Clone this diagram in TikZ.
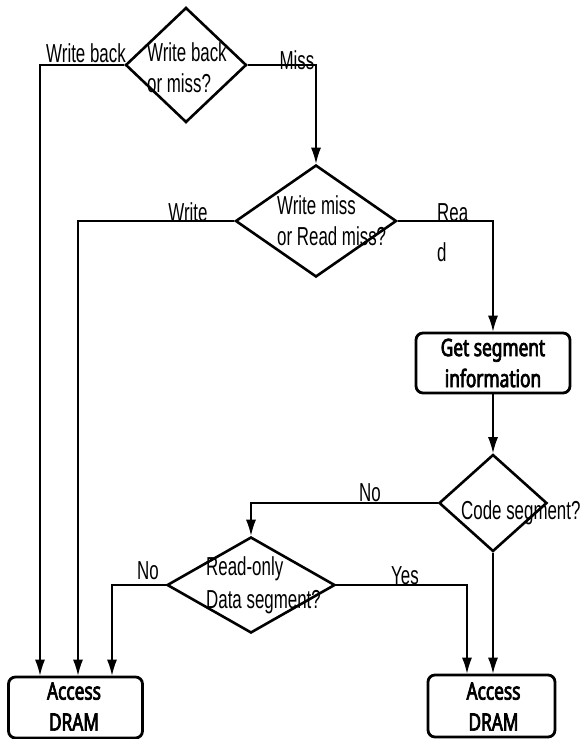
\documentclass[tikz,border=0pt]{standalone}
\usepackage{fontspec}
\usetikzlibrary{shapes.geometric,arrows.meta}
\newfontfamily\labfont{Liberation Sans}[FakeStretch=0.65]
\newfontfamily\boldfont{Noto Sans}[FakeStretch=0.72, FakeBold=3]
\tikzset{
  dec/.style={diamond, draw, line width=2.6pt, inner sep=0pt, text width=0pt},
  boxn/.style={draw, rounded corners=7pt, line width=2.8pt, inner sep=0pt},
  conn/.style={line width=1.3pt},
  arr/.style={conn, -{Latex[length=16pt,width=10pt]}},
  lab/.style={inner sep=0pt, font=\labfont\fontsize{26}{31}\selectfont},
  btxt/.style={inner sep=0pt, align=center, font=\boldfont\fontsize{24}{31}\selectfont},
}
\begin{document}
\begin{tikzpicture}[x=1pt,y=-1pt]
\useasboundingbox (0,0) rectangle (588,739);
% decisions
\node[dec, minimum width=121pt, minimum height=115pt] (d1) at (186,65) {};
\node[dec, minimum width=161pt, minimum height=112pt] (d2) at (316,221) {};
\node[dec, minimum width=108pt, minimum height=97pt] (d3) at (493,503) {};
\node[dec, minimum width=168pt, minimum height=96pt] (d4) at (251,585) {};
% boxes
\node[boxn, minimum width=154pt, minimum height=60pt] (gs) at (493,363) {};
\node[boxn, minimum width=134pt, minimum height=61pt] (accL) at (75.5,707.5) {};
\node[boxn, minimum width=127pt, minimum height=62pt] (accR) at (491.5,706) {};
% texts in shapes
\node[lab, align=left, anchor=west] (t1) at (147,68) {Write back\\or miss?};
\node[lab, align=left, anchor=west] (t2) at (277,220.5) {Write miss\\or Read miss?};
\node[lab, anchor=west] (t3) at (461,513) {Code segment?};
\node[lab, align=left, anchor=west, font=\labfont\fontsize{26}{33}\selectfont] (t4) at (206,585) {Read-only\\Data segment?};
\node[btxt] (tg) at (493,363) {Get segment\\information};
\node[btxt] (taL) at (74,706.5) {Access\\DRAM};
\node[btxt] (taR) at (493.5,706.5) {Access\\DRAM};
% x positions of entries
\coordinate (xa) at (40,0);
\coordinate (xb) at (78,0);
\coordinate (xc) at (112,0);
\coordinate (xd) at (467,0);
% connectors
\draw[arr] (d1.west) -| (xa |- accL.north);
\draw[arr] (d1.east) -| (d2.north);
\draw[arr] (d2.west) -| (xb |- accL.north);
\draw[arr] (d2.east) -| (gs.north);
\draw[arr] (gs.south) -- (d3.north);
\draw[arr] (d3.west) -| (d4.north);
\draw[arr] (d3.south) -- (d3.south |- accR.north);
\draw[arr] (d4.west) -| (xc |- accL.north);
\draw[arr] (d4.east) -| (xd |- accR.north);
% edge labels
\node[lab] (l1) at (86,53) {Write back};
\node[lab] (l2) at (297,60) {Miss};
\node[lab] (l3) at (188,212) {Write};
\node[lab, anchor=west] (l4) at (437,213) {Rea};
\node[lab, anchor=west] (l5) at (437,252) {d};
\node[lab] (l6) at (370,493) {No};
\node[lab] (l7) at (148,571) {No};
\node[lab] (l8) at (405,576) {Yes};
\end{tikzpicture}
\end{document}
